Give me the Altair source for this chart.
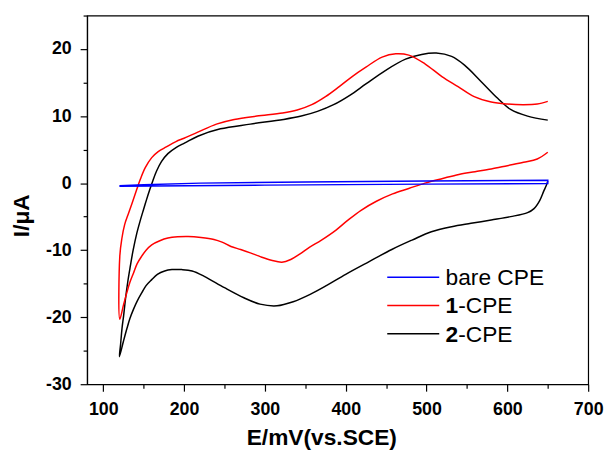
import altair as alt
import pandas as pd

FONT = "Liberation Sans"

# axis domain and ticks
x_domain = [80, 700]
y_domain = [-30, 25]
x_ticks = [100, 150, 200, 250, 300, 350, 400, 450, 500, 550, 600, 650, 700]
y_ticks = [-30, -25, -20, -15, -10, -5, 0, 5, 10, 15, 20, 25]

series_names = ["bare CPE", "1-CPE", "2-CPE"]
series_colors = ["#0000ff", "#ff0000", "#000000"]

# bare CPE (forward then reverse)
bare_E = [120, 300, 500, 650, 650, 500, 350, 220, 150, 120]
bare_I = [-0.45, -0.3, -0.15, -0.05, 0.42, 0.32, 0.18, 0.0, -0.25, -0.4]

# 1-CPE: cathodic branch 650 -> 120, then anodic branch 120 -> 650
cpe1_rev_E = [650, 637, 620, 600, 580, 560, 540, 520, 498, 478, 458, 438, 419, 402, 388,
              370, 355, 343, 332, 321, 308, 295, 282, 270, 258, 247, 237, 221, 205, 192,
              180, 170, 160, 153, 147.6, 142, 137.5, 133, 129.3, 125, 120.5]
cpe1_rev_I = [4.6, 3.6, 3.1, 2.6, 2.1, 1.7, 1.3, 0.7, 0.0, -0.8, -1.6, -2.7, -4.05, -5.6, -7.0,
              -8.5, -9.6, -10.6, -11.4, -11.8, -11.5, -11.0, -10.4, -9.9, -9.45, -8.8, -8.4, -8.1, -7.95, -8.0,
              -8.2, -8.6, -9.2, -10.0, -10.9, -12.0, -13.4, -14.8, -16.3, -18.2, -20.3]
cpe1_fwd_E = [120.5, 123, 126.5, 131, 136, 141, 146, 152, 160, 168, 178, 190, 200, 217, 240,
              262, 290, 322, 340, 358, 375, 392, 408, 425, 445, 462, 478, 498, 519, 539,
              559, 580, 600, 620, 637, 650]
cpe1_fwd_I = [-10.9, -8.3, -6.2, -4.6, -2.9, -1.1, 0.6, 2.3, 3.8, 4.7, 5.4, 6.2, 6.7, 7.6, 8.8,
              9.5, 10.0, 10.45, 10.9, 11.7, 12.9, 14.4, 15.9, 17.3, 18.8, 19.3, 19.1, 17.8, 15.9, 14.4,
              12.9, 12.1, 11.8, 11.7, 11.8, 12.2]

# 2-CPE: cathodic branch 650 -> 120, then anodic branch 120 -> 650
cpe2_rev_E = [650, 648, 645, 640, 633, 625, 604, 580, 555, 531, 506, 482, 457, 429, 400,
              376, 356, 335, 315, 294, 274, 250, 225, 210, 197, 185, 176, 167, 160, 153,
              148, 142, 137.5, 133, 129.3, 125, 120]
cpe2_rev_I = [0.3, -0.4, -1.2, -2.6, -3.8, -4.4, -5.0, -5.5, -6.0, -6.5, -7.25, -8.5, -9.9, -11.7, -13.6,
              -15.3, -16.6, -17.7, -18.3, -18.05, -17.1, -15.6, -13.9, -13.1, -12.9, -12.9, -13.1, -13.6, -14.4, -15.3,
              -16.3, -17.6, -18.8, -20.2, -21.7, -23.6, -25.9]
cpe2_fwd_E = [121.5, 123.2, 125.2, 127.5, 130.5, 133.5, 137, 141.5, 145.5, 149.7, 153.5, 157.5, 161.5, 166, 172,
              180, 190, 201, 217, 245, 282, 323, 345, 365, 385, 405, 425, 449, 474,
              494, 512, 531, 547, 568, 588, 604, 625, 650]
cpe2_fwd_I = [-24.0, -21.7, -19.8, -17.3, -14.6, -12.4, -10.0, -7.5, -5.7, -4.0, -2.5, -1.0, 0.4, 1.8, 3.2,
              4.4, 5.3, 6.0, 7.0, 8.1, 8.8, 9.5, 10.0, 10.7, 11.7, 13.1, 14.8, 16.8, 18.5,
              19.2, 19.4, 18.9, 17.6, 15.1, 12.65, 11.0, 10.0, 9.4]


def path_df(name, E, I):
    return pd.DataFrame({"series": name, "E": E, "I": I, "k": list(range(len(E)))})


df_bare = path_df("bare CPE", bare_E, bare_I)
df_1 = path_df("1-CPE", cpe1_rev_E + cpe1_fwd_E, cpe1_rev_I + cpe1_fwd_I)
df_2 = path_df("2-CPE", cpe2_rev_E + cpe2_fwd_E, cpe2_rev_I + cpe2_fwd_I)

x_axis = alt.Axis(
    values=x_ticks,
    labelExpr="datum.value % 100 == 0 ? '' + datum.value : ''",
    tickSize={"condition": {"test": "datum.value % 100 == 0", "value": 7}, "value": 4},
    labelFont=FONT, labelFontSize=18, labelFontWeight="bold", labelColor="black",
    labelPadding=10, labelFlush=False, labelOverlap=False,
    title="E/mV(vs.SCE)", titleFont=FONT, titleFontSize=23, titleFontWeight="bold",
    titleColor="black", titleX=237, titleY=61, titleBaseline="alphabetic", titleAnchor="middle",
    domainColor="black", domainWidth=1.2, tickColor="black", tickWidth=1.2, grid=False,
)
y_axis = alt.Axis(
    values=y_ticks,
    labelExpr="datum.value % 10 == 0 ? '' + datum.value : ''",
    tickSize={"condition": {"test": "datum.value % 10 == 0", "value": 7}, "value": 4},
    labelFont=FONT, labelFontSize=18, labelFontWeight="bold", labelColor="black",
    labelPadding=9, labelOverlap=False, labelFlush=False,
    title="I/\u03bcA", titleFont=FONT, titleFontSize=23, titleFontWeight="bold",
    titleColor="black", titleX=-59, titleY=202, titleAngle=270,
    titleBaseline="alphabetic", titleAlign="center",
    domainColor="black", domainWidth=1.2, tickColor="black", tickWidth=1.2, grid=False,
)

x_enc = alt.X("E:Q", scale=alt.Scale(domain=x_domain, nice=False, zero=False), axis=x_axis)
y_enc = alt.Y("I:Q", scale=alt.Scale(domain=y_domain, nice=False, zero=False), axis=y_axis)


def curve(df, color, interp):
    return alt.Chart(df).mark_line(color=color, strokeWidth=1.5, interpolate=interp).encode(
        x=x_enc, y=y_enc, order=alt.Order("k:Q")
    )


layers = [
    curve(df_2, series_colors[2], "catmull-rom"),
    curve(df_1, series_colors[1], "catmull-rom"),
    curve(df_bare, series_colors[0], "linear"),
]

# legend (drawn inside the plot, lower right)
leg_rows = [264.7, 293.3, 322.0]
leg_x0, leg_x1, leg_tx = 303.7, 356.3, 362.7
bold_part = ["", "1", "2"]
rest_part = ["bare CPE", "-CPE", "-CPE"]
LEG_FS = 23
for i, name in enumerate(series_names):
    ldf = pd.DataFrame({"bold": [bold_part[i]], "rest": [rest_part[i]]})
    layers.append(
        alt.Chart(ldf).mark_rule(color=series_colors[i], strokeWidth=1.5).encode(
            x=alt.value(leg_x0), x2=alt.value(leg_x1), y=alt.value(leg_rows[i])
        )
    )
    offset = 0.0
    if bold_part[i]:
        layers.append(
            alt.Chart(ldf).mark_text(align="left", baseline="alphabetic", font=FONT,
                                     fontSize=LEG_FS, fontWeight="bold", color="black").encode(
                x=alt.value(leg_tx), y=alt.value(leg_rows[i] + 8), text="bold:N"
            )
        )
        offset = 0.556 * LEG_FS
    layers.append(
        alt.Chart(ldf).mark_text(align="left", baseline="alphabetic", font=FONT,
                                 fontSize=LEG_FS, color="black").encode(
            x=alt.value(leg_tx + offset), y=alt.value(leg_rows[i] + 8), text="rest:N"
        )
    )

chart = alt.layer(*layers).properties(
    width=507, height=373,
    padding={"left": 80, "top": 5, "right": 16, "bottom": 70},
    autosize=alt.AutoSizeParams(type="none"),
    background="white",
).configure_view(stroke="black", strokeWidth=1.2)

chart.save("out.html", embed_options={"renderer": "svg", "actions": False})
